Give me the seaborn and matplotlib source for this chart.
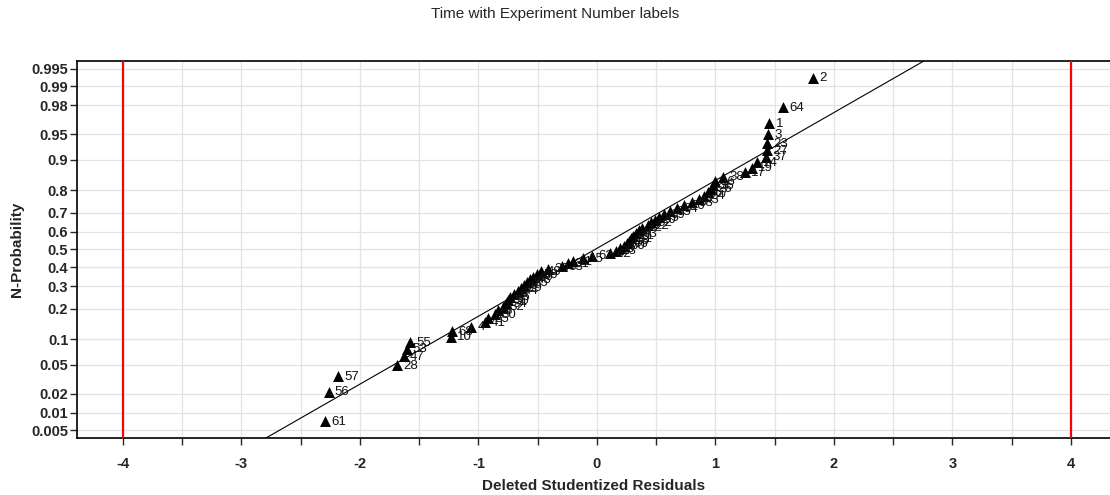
import numpy as np
import pandas as pd
import matplotlib
matplotlib.use("Agg")
import matplotlib.pyplot as plt
import seaborn as sns
from statistics import NormalDist

# Experiment numbers, in ascending order of their deleted studentized residuals
experiments = [61, 56, 57, 28, 47, 53, 55, 10, 68, 4,
               41, 25, 30, 8, 32, 34, 50, 46, 6, 44,
               29, 9, 35, 48, 40, 59, 49, 39, 33, 31,
               11, 15, 62, 42, 13, 5, 60, 66, 18, 51,
               21, 63, 7, 12, 22, 52, 20, 45, 69, 65,
               54, 70, 58, 43, 24, 67, 26, 36, 16, 38,
               17, 19, 14, 37, 27, 23, 3, 1, 64, 2]

residuals = [-2.293, -2.264, -2.186, -1.688, -1.629, -1.606, -1.578, -1.232, -1.221, -1.061,
             -0.945, -0.917, -0.861, -0.835, -0.793, -0.768, -0.751, -0.734, -0.700, -0.667,
             -0.641, -0.616, -0.591, -0.565, -0.540, -0.506, -0.473, -0.414, -0.295, -0.245,
             -0.203, -0.118, -0.042, 0.110, 0.160, 0.194, 0.228, 0.253, 0.270, 0.287,
             0.304, 0.329, 0.354, 0.380, 0.430, 0.456, 0.489, 0.523, 0.565, 0.616,
             0.675, 0.734, 0.802, 0.861, 0.903, 0.937, 0.962, 0.979, 0.996, 1.063,
             1.249, 1.308, 1.350, 1.426, 1.435, 1.439, 1.443, 1.456, 1.570, 1.823]

# reference normal line: z = slope * residual + intercept
fit_slope = 0.968
fit_intercept = 0.016

prob_ticks = [0.005, 0.01, 0.02, 0.05, 0.1, 0.2, 0.3, 0.4, 0.5, 0.6, 0.7, 0.8, 0.9, 0.95, 0.98, 0.99, 0.995]
prob_labels = ["0.005", "0.01", "0.02", "0.05", "0.1", "0.2", "0.3", "0.4", "0.5", "0.6",
               "0.7", "0.8", "0.9", "0.95", "0.98", "0.99", "0.995"]
limit_lines = [-4, 4]

nd = NormalDist()
n = len(residuals)
z = [nd.inv_cdf((i + 0.5) / n) for i in range(n)]
df = pd.DataFrame({"res": residuals, "z": z, "exp": experiments})

sns.set_style("white")
plt.rcParams['font.family'] = ['Liberation Sans', 'DejaVu Sans']

fig = plt.figure(figsize=(11.1, 4.95), dpi=100)
ax = fig.add_axes([0.0691, 0.1158, 0.9309, 0.7604])

# grid
for xv in np.arange(-4.5, 4.51, 0.5):
    ax.axvline(xv, color="#e3e3e3", lw=0.9, zorder=0)
for p in prob_ticks:
    ax.axhline(nd.inv_cdf(p), color="#e3e3e3", lw=0.9, zorder=0)

# fit line
xs = np.array([-4.5, 4.5])
ax.plot(xs, fit_slope * xs + fit_intercept, color="black", lw=0.8, zorder=2)

for xv in limit_lines:
    ax.axvline(xv, color="#ff0000", lw=1.6, zorder=3)

sns.scatterplot(data=df, x="res", y="z", marker="^", s=62, color="black",
                edgecolor="black", linewidth=0, ax=ax, zorder=4, legend=False)
for _, r in df.iterrows():
    ax.annotate(str(int(r["exp"])), (r["res"], r["z"]), xytext=(4.5, -0.5),
                textcoords="offset points", va="center", ha="left", fontsize=9.5,
                color="#111111", zorder=5)

ax.set_xlim(-4.39, 4.33)
ax.set_ylim(-2.683, 2.683)
ax.set_xticks(np.arange(-4, 4.01, 0.5))
ax.set_xticklabels([str(int(v)) if float(v).is_integer() else "" for v in np.arange(-4, 4.01, 0.5)])
ax.set_yticks([nd.inv_cdf(p) for p in prob_ticks])
ax.set_yticklabels(prob_labels)
ax.tick_params(axis="x", direction="out", length=5, width=1, pad=9, labelsize=10.5)
ax.tick_params(axis="y", direction="out", length=5, width=1, pad=1, labelsize=10.5)
ax.tick_params(bottom=True, left=True)
for lab in ax.get_xticklabels() + ax.get_yticklabels():
    lab.set_fontweight("bold")

for side in ["left", "bottom", "top"]:
    ax.spines[side].set_visible(True)
    ax.spines[side].set_color("black")
    ax.spines[side].set_linewidth(1.2)
ax.spines["right"].set_visible(False)

ax.set_xlabel("Deleted Studentized Residuals", fontsize=11, fontweight="bold", labelpad=6)
ax.set_ylabel("N-Probability", fontsize=11, fontweight="bold", labelpad=5)
fig.text(0.5, 0.972, "Time with Experiment Number labels", ha="center", va="center", fontsize=11)

fig.savefig("out.png", dpi=100)
